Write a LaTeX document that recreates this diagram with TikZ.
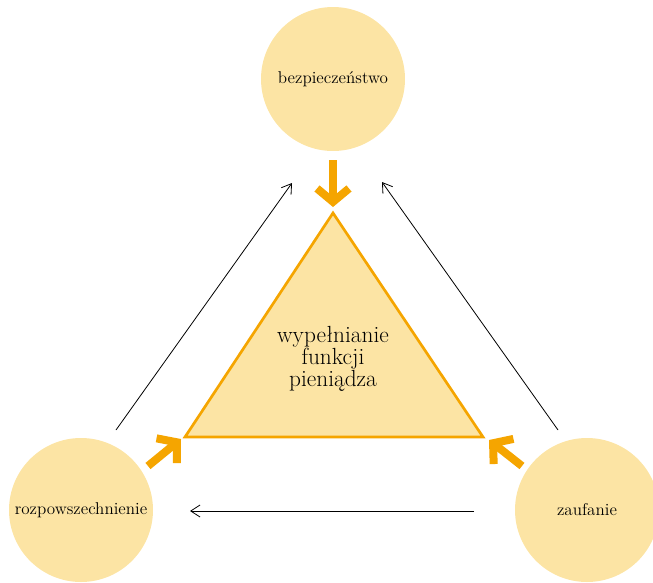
\documentclass[tikz,border=0pt]{standalone}
\usepackage{tikz}
\usetikzlibrary{arrows.meta}
\definecolor{lightgold}{HTML}{FCE4A4}
\definecolor{darkgold}{HTML}{F5A500}

\begin{document}
\begin{tikzpicture}[x=0.75pt,y=-0.75pt,
    circ/.style={circle,fill=lightgold,minimum size=108pt,inner sep=0pt,
      font=\fontsize{12.8}{14}\selectfont},
    bigarrow/.style={darkgold,line width=6pt,
      -{Straight Barb[length=10pt,width=24pt,line width=6pt]}},
    thinarrow/.style={line width=0.6pt,
      -{Straight Barb[length=7pt,width=9pt,line width=0.6pt]}}]
        \useasboundingbox (0,0) rectangle (653,582);
        % circles
        \node[circ] (sec) at (333,79) {bezpiecze\'nstwo};
        \node[circ] (spread) at (81,510) {rozpowszechnienie};
        \node[circ] (trust) at (587,510) {zaufanie};
        % triangle
        \coordinate (apex) at (333,213);
        \coordinate (baseL) at (185,437);
        \coordinate (baseR) at (483,437);
        \draw[darkgold,fill=lightgold,line width=2pt,line join=miter]
        (apex) -- (baseR) -- (baseL) -- cycle;
        \node[align=center,font=\fontsize{17.5}{16.5}\selectfont] (core) at (333,359)
        {wype\l{}nianie\\funkcji\\pieni\k{a}dza};
        % thick arrows
        \coordinate (secout) at (333,160);
        \coordinate (apexin) at (333,207);
        \coordinate (spreadout) at (148,466);
        \coordinate (baseLin) at (181,439);
        \coordinate (trustout) at (522,466);
        \coordinate (baseRin) at (489,440);
        \draw[bigarrow] (secout) -- (apexin);
        \draw[bigarrow] (spreadout) -- (baseLin);
        \draw[bigarrow] (trustout) -- (baseRin);
        % thin arrows
        \coordinate (a1) at (116,430);
        \coordinate (a2) at (292,183);
        \coordinate (b1) at (558,430);
        \coordinate (b2) at (382,182);
        \coordinate (c1) at (474,511);
        \coordinate (c2) at (190,511);
        \draw[thinarrow] (a1) -- (a2);
        \draw[thinarrow] (b1) -- (b2);
        \draw[thinarrow] (c1) -- (c2);
      \end{tikzpicture}
\end{document}
